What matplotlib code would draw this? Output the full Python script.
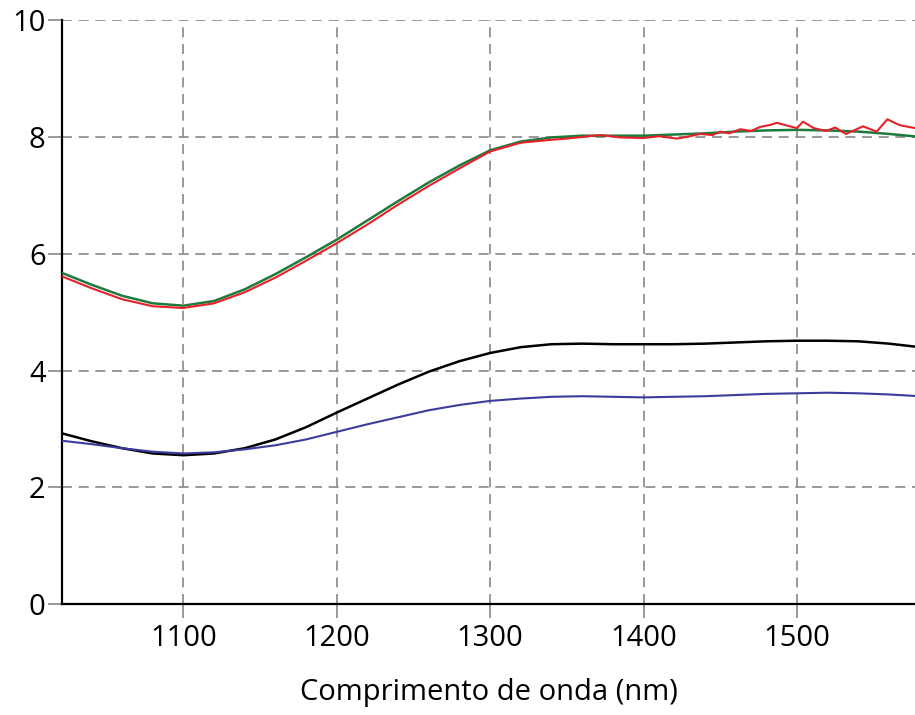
import matplotlib.pyplot as plt

# wavelength grid for the smooth curves (nm)
wl = [1020, 1040, 1060, 1080, 1100, 1120, 1140, 1160, 1180, 1200,
      1220, 1240, 1260, 1280, 1300, 1320, 1340, 1360, 1380, 1400,
      1420, 1440, 1460, 1480, 1500, 1520, 1540, 1560, 1580]

green = [5.68, 5.47, 5.28, 5.15, 5.11, 5.19, 5.39, 5.65, 5.94, 6.24,
         6.57, 6.90, 7.22, 7.51, 7.77, 7.92, 7.99, 8.02, 8.02, 8.02,
         8.04, 8.06, 8.09, 8.11, 8.12, 8.11, 8.09, 8.05, 8.00]

black = [2.93, 2.79, 2.67, 2.58, 2.55, 2.58, 2.67, 2.82, 3.03, 3.28,
         3.52, 3.76, 3.98, 4.16, 4.30, 4.40, 4.45, 4.46, 4.45, 4.45,
         4.45, 4.46, 4.48, 4.50, 4.51, 4.51, 4.50, 4.46, 4.40]

blue = [2.80, 2.74, 2.67, 2.61, 2.58, 2.60, 2.65, 2.72, 2.82, 2.95,
        3.08, 3.20, 3.32, 3.41, 3.48, 3.52, 3.55, 3.56, 3.55, 3.54,
        3.55, 3.56, 3.58, 3.60, 3.61, 3.62, 3.61, 3.59, 3.56]

# measured (noisy) curve
wl_red = [1020, 1040, 1060, 1080, 1100, 1120, 1140, 1160, 1180, 1200,
          1220, 1240, 1260, 1280, 1300, 1320, 1340, 1350, 1360, 1372,
          1385, 1400, 1410, 1422, 1430, 1437, 1445, 1450, 1456, 1463,
          1470, 1476, 1482, 1487, 1494, 1500, 1504, 1511, 1519, 1525,
          1532, 1538, 1543, 1552, 1559, 1567, 1577]
red = [5.62, 5.41, 5.22, 5.10, 5.07, 5.15, 5.34, 5.59, 5.88, 6.18,
       6.50, 6.84, 7.16, 7.46, 7.75, 7.90, 7.95, 7.97, 8.00, 8.03,
       7.99, 7.98, 8.01, 7.97, 8.01, 8.05, 8.03, 8.09, 8.06, 8.13,
       8.10, 8.17, 8.20, 8.24, 8.19, 8.15, 8.26, 8.15, 8.10, 8.16,
       8.05, 8.12, 8.18, 8.09, 8.30, 8.20, 8.15]

xticks = [1100, 1200, 1300, 1400, 1500]
yticks = [0, 2, 4, 6, 8, 10]

plt.rcParams["font.family"] = ["Open Sans", "DejaVu Sans"]

fig = plt.figure(figsize=(9.15, 7.15), dpi=100)
ax = fig.add_axes([0.068, 0.155, 0.932, 0.817])

ax.plot(wl, green, color="#1e7a3c", lw=1.8, zorder=3)
ax.plot(wl_red, red, color="#e8202a", lw=1.5, zorder=4)
ax.plot(wl, black, color="black", lw=1.8, zorder=3)
ax.plot(wl, blue, color="#3c3c9c", lw=1.5, zorder=3)

ax.set_xlim(1021, 1577)
ax.set_ylim(0, 10)
ax.set_xticks(xticks)
ax.set_yticks(yticks)
ax.grid(True, color="#888888", linestyle=(0, (6, 4)), linewidth=1.2)
ax.set_axisbelow(True)

for side in ["top", "right"]:
    ax.spines[side].set_visible(False)
for side in ["left", "bottom"]:
    ax.spines[side].set_linewidth(1.6)

ax.tick_params(axis="both", colors="#888888", length=10, width=1.2,
               labelsize=21, labelcolor="black", pad=4)
ax.tick_params(axis="y", pad=2)
ax.set_xlabel("Comprimento de onda (nm)", fontsize=21, labelpad=18)

fig.savefig("out.png", dpi=100)
